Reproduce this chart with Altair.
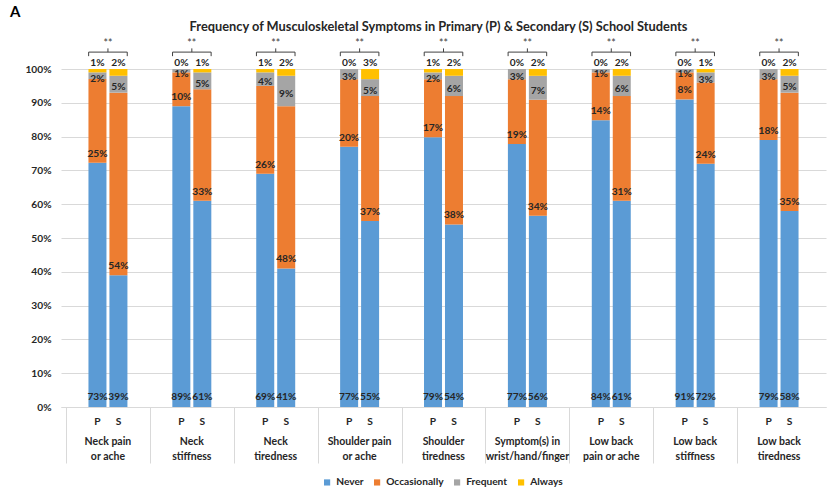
import altair as alt
import pandas as pd

# Symptom categories (x groups) and school levels
categories = [
    "Neck pain\nor ache", "Neck\nstiffness", "Neck\ntiredness",
    "Shoulder pain\nor ache", "Shoulder\ntiredness", "Symptom(s) in\nwrist/hand/finger",
    "Low back\npain or ache", "Low back\nstiffness", "Low back\ntiredness",
]
groups = ["P", "S"]
levels = ["Never", "Occasionally", "Frequent", "Always"]
level_colors = ["#5B9BD5", "#ED7D31", "#A5A5A5", "#FFC000"]

# Percentages per category, primary (P) students
never_p = [73, 89, 69, 77, 79, 77, 84, 91, 79]
occasionally_p = [25, 10, 26, 20, 17, 19, 14, 8, 18]
frequent_p = [2, 1, 4, 3, 2, 3, 1, 1, 3]
always_p = [1, 0, 1, 0, 1, 0, 0, 0, 0]

# Percentages per category, secondary (S) students
never_s = [39, 61, 41, 55, 54, 56, 61, 72, 58]
occasionally_s = [54, 33, 48, 37, 38, 34, 31, 24, 35]
frequent_s = [5, 5, 9, 5, 6, 7, 6, 3, 5]
always_s = [2, 1, 2, 3, 2, 2, 2, 1, 2]

significance = ["**"] * len(categories)

heading = "Frequency of Musculoskeletal Symptoms in Primary (P) & Secondary (S)  School Students"
panel_letter = "A"

BAR_OFFSET = 0.125   # half distance between P and S bar centres (x units)
BRACKET_HALF = 0.23  # half width of the significance bracket (x units)
PLOT_W, PLOT_H = 765, 338

series = {
    "P": [never_p, occasionally_p, frequent_p, always_p],
    "S": [never_s, occasionally_s, frequent_s, always_s],
}

rows = []
for i, cat in enumerate(categories):
    for g in groups:
        vals = [s[i] for s in series[g]]
        total = sum(vals)
        x = i + 0.5 + (-BAR_OFFSET if g == "P" else BAR_OFFSET)
        acc = 0
        for k, (lvl, v) in enumerate(zip(levels, vals)):
            y0 = acc / total
            acc += v
            y1 = acc / total
            rows.append({
                "category": cat, "group": g, "level": lvl, "order": k,
                "value": v, "label": f"{v}%", "y0": y0, "y1": y1,
                "ymid": (y0 + y1) / 2, "x": x,
            })
bars = pd.DataFrame(rows)

ann = pd.DataFrame({
    "category": categories,
    "center": [i + 0.5 for i in range(len(categories))],
    "left": [i + 0.5 - BRACKET_HALF for i in range(len(categories))],
    "right": [i + 0.5 + BRACKET_HALF for i in range(len(categories))],
    "sig": significance,
})

FONT = "Lato"
INK = "#262626"
GRID = "#d9d9d9"
FS = 10.2  # body text size

x_axis = alt.Axis(values=list(range(len(categories))), labels=False, title=None,
                  tickSize=56, tickColor=GRID, domainColor=GRID, grid=False)
x_scale = alt.Scale(domain=[0, len(categories)], nice=False, zero=False)
y_axis = alt.Axis(values=[i / 10 for i in range(11)], format=".0%", title=None,
                  domain=False, ticks=False, gridColor=GRID, labelPadding=10,
                  labelFontSize=FS, labelFont=FONT, labelFontWeight="bold",
                  labelColor=INK)
y_scale = alt.Scale(domain=[0, 1], nice=False)


def X(field):
    return alt.X(field, scale=x_scale, axis=x_axis)


def Y(field):
    return alt.Y(field, scale=y_scale, axis=y_axis)


base = alt.Chart(bars)

bar_layer = base.mark_bar(width=18).encode(
    x=X("x:Q"),
    y=Y("y0:Q"),
    y2="y1:Q",
    color=alt.Color("level:N", scale=alt.Scale(domain=levels, range=level_colors),
                    legend=alt.Legend(title=None, orient="none", direction="horizontal",
                                      legendX=261, legendY=408, symbolType="square",
                                      symbolSize=38, labelFontSize=FS, labelFont=FONT,
                                      labelFontWeight="bold", labelColor=INK,
                                      columnPadding=8, labelOffset=4)),
    order="order:Q",
)

text_style = dict(font=FONT, fontSize=FS, fontWeight="bold", color=INK)

never_lbl = base.transform_filter("datum.level == 'Never'").mark_text(
    baseline="middle", dy=-10, **text_style).encode(
    x=X("x:Q"), y=Y("y0:Q"), text="label:N")

occ_lbl = base.transform_filter("datum.level == 'Occasionally'").mark_text(
    baseline="bottom", dy=-4, **text_style).encode(
    x=X("x:Q"), y=Y("y0:Q"), text="label:N")

freq_lbl = base.transform_filter("datum.level == 'Frequent'").mark_text(
    baseline="middle", dy=3, **text_style).encode(
    x=X("x:Q"), y=Y("ymid:Q"), text="label:N")

alw_lbl = base.transform_filter("datum.level == 'Always'").mark_text(
    baseline="middle", dy=-6, **text_style).encode(
    x=X("x:Q"), y=Y("y1:Q"), text="label:N")

group_lbl = base.transform_filter("datum.level == 'Never'").mark_text(
    baseline="middle", dy=15, **text_style).encode(
    x=X("x:Q"), y=alt.Y("zero:Q", scale=y_scale, axis=y_axis), text="group:N"
).transform_calculate(zero="0")

ann_base = alt.Chart(ann)

cat_lbl = ann_base.mark_text(baseline="top", dy=30, lineBreak="\n", lineHeight=14.5,
                             font=FONT, fontSize=10.5, fontWeight="bold", color=INK).encode(
    x=X("center:Q"), y=alt.Y("zero:Q", scale=y_scale, axis=y_axis), text="category:N"
).transform_calculate(zero="0")

bracket_top = ann_base.mark_rule(color="#404040", strokeWidth=1).encode(
    x=X("left:Q"), x2="right:Q", y=alt.Y("top:Q", scale=y_scale, axis=y_axis)
).transform_calculate(top="1.05")

bracket_left = ann_base.mark_rule(color="#404040", strokeWidth=1).encode(
    x=X("left:Q"), y=alt.Y("lo:Q", scale=y_scale, axis=y_axis), y2="top:Q"
).transform_calculate(top="1.05", lo="1.038")

bracket_right = ann_base.mark_rule(color="#404040", strokeWidth=1).encode(
    x=X("right:Q"), y=alt.Y("lo:Q", scale=y_scale, axis=y_axis), y2="top:Q"
).transform_calculate(top="1.05", lo="1.038")

bracket_mid = ann_base.mark_rule(color="#404040", strokeWidth=1).encode(
    x=X("center:Q"), y=alt.Y("top:Q", scale=y_scale, axis=y_axis), y2="hi:Q"
).transform_calculate(top="1.05", hi="1.061")

stars = ann_base.mark_text(baseline="middle", font=FONT, fontSize=10.5, color="#404040").encode(
    x=X("center:Q"), y=alt.Y("pos:Q", scale=y_scale, axis=y_axis), text="sig:N"
).transform_calculate(pos="1.075")

# Heading and panel letter above the plot area
heading_mark = alt.Chart(pd.DataFrame({"t": [heading]})).mark_text(
    font=FONT, fontSize=12.8, fontWeight="bold", color=INK,
    align="center", baseline="middle").encode(
    text="t:N", x=alt.value(PLOT_W / 2 - 5), y=alt.value(-42))

panel_tag = alt.Chart(pd.DataFrame({"t": [panel_letter]})).mark_text(
    font=FONT, fontSize=15, fontWeight="bold", color="#000000",
    align="left", baseline="middle").encode(
    text="t:N", x=alt.value(-51), y=alt.value(-57))

chart = alt.layer(
    bar_layer, never_lbl, occ_lbl, freq_lbl, alw_lbl, group_lbl, cat_lbl,
    bracket_top, bracket_left, bracket_right, bracket_mid, stars,
    heading_mark, panel_tag,
).properties(
    width=PLOT_W,
    height=PLOT_H,
    autosize=alt.AutoSizeParams(type="none"),
    padding={"left": 61, "top": 69, "right": 1, "bottom": 85},
    background="white",
).configure_view(stroke=None)

chart.save("out.html", embed_options={"renderer": "svg", "actions": False})
